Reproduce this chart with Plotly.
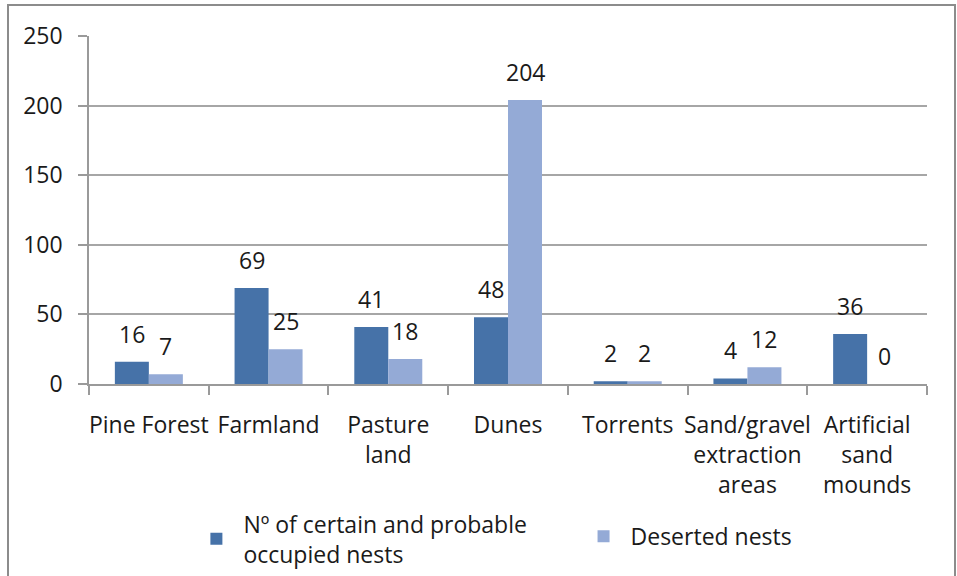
import plotly.graph_objects as go

categories = ["Pine Forest", "Farmland", "Pasture<br>land", "Dunes", "Torrents",
              "Sand/gravel<br>extraction<br>areas", "Artificial<br>sand<br>mounds"]
occupied = [16, 69, 41, 48, 2, 4, 36]
deserted = [7, 25, 18, 204, 2, 12, 0]
series_names = ["Nº of certain and probable<br>occupied nests", "Deserted nests"]
y_ticks = [0, 50, 100, 150, 200, 250]

DARK = "#4672A8"
LIGHT = "#94AAD6"
FONT = "Open Sans"
TXT = "#1a1a1a"

fig = go.Figure()
fig.add_trace(go.Bar(x=categories, y=occupied, name=series_names[0], legend="legend",
                     marker=dict(color=DARK, line=dict(width=0))))
fig.add_trace(go.Bar(x=categories, y=deserted, name=series_names[1], legend="legend2",
                     marker=dict(color=LIGHT, line=dict(width=0))))

annotations = []
for cat, v in zip(categories, occupied):
    annotations.append(dict(x=cat, y=v, xref="x", yref="y", text=str(v), showarrow=False,
                            xshift=-17, yshift=10, yanchor="bottom",
                            font=dict(family=FONT, size=23, color=TXT)))
for cat, v in zip(categories, deserted):
    annotations.append(dict(x=cat, y=v, xref="x", yref="y", text=str(v), showarrow=False,
                            xshift=17, yshift=10, yanchor="bottom",
                            font=dict(family=FONT, size=23, color=TXT)))

L, R, T, B = 89, 30, 36, 192
W, H = 957, 576
pw, ph = W - L - R, H - T - B

legend_style = dict(orientation="h", xanchor="left", yanchor="top",
                    font=dict(family=FONT, size=23, color=TXT), valign="middle",
                    itemwidth=44, bgcolor="rgba(0,0,0,0)")

fig.update_layout(
    width=W, height=H,
    margin=dict(l=L, r=R, t=T, b=B, pad=0, autoexpand=False),
    paper_bgcolor="white", plot_bgcolor="white",
    barmode="group", bargap=0.432, bargroupgap=0,
    font=dict(family=FONT, size=23, color=TXT),
    showlegend=True,
    legend=dict(x=0.1198, y=-0.34, **legend_style),
    legend2=dict(x=0.5818, y=-0.376, **legend_style),
    annotations=annotations,
    shapes=[dict(type="rect", xref="paper", yref="paper",
                 x0=(8 - L) / pw, x1=(955 - L) / pw,
                 y0=(ph + T - 580) / ph, y1=(ph + T - 5) / ph,
                 line=dict(color="#8c8c8c", width=2), fillcolor="rgba(0,0,0,0)", layer="below")],
)
fig.update_xaxes(type="category", showline=True, linecolor="#9a9a9a", linewidth=1.5,
                 ticks="outside", tickson="boundaries", ticklen=9, tickcolor="#9a9a9a",
                 tickwidth=1.5, showgrid=False, ticklabelstandoff=20, tickangle=0,
                 automargin=False, tickfont=dict(family=FONT, size=23, color=TXT))
fig.update_yaxes(range=[0, 250], tickvals=y_ticks, showline=True, linecolor="#9a9a9a",
                 linewidth=1.5, ticks="outside", ticklen=9, tickcolor="#9a9a9a", tickwidth=1.5,
                 showgrid=True, gridcolor="#a6a6a6", gridwidth=1.5, zeroline=False,
                 automargin=False, ticklabelstandoff=11,
                 tickfont=dict(family=FONT, size=23, color=TXT))

fig.write_html("out.html", config={"displayModeBar": False},
               post_script="document.body.style.margin='0';document.body.style.overflow='hidden';")
